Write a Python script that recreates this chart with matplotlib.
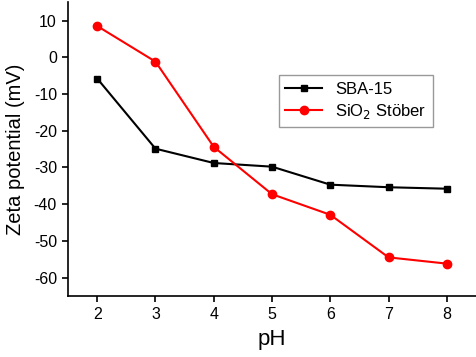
import numpy as np
import matplotlib
matplotlib.use("Agg")
import matplotlib.pyplot as plt

plt.rcParams['font.family'] = ['Liberation Sans', 'DejaVu Sans']
plt.rcParams['axes.unicode_minus'] = False

# Data
ph = [2, 3, 4, 5, 6, 7, 8]
sba15 = [-5.8, -24.9, -28.8, -29.8, -34.7, -35.4, -35.8]
stober = [8.5, -1.2, -24.4, -37.3, -42.9, -54.5, -56.2]
yticks = [-60, -50, -40, -30, -20, -10, 0, 10]

fig = plt.figure(figsize=(4.76, 3.57), dpi=100)
ax = fig.add_axes([0.143, 0.171, 0.857, 0.823])

ax.plot(ph, sba15, color='black', marker='s', markersize=5, linewidth=1.5,
        label='SBA-15')
ax.plot(ph, stober, color='red', marker='o', markersize=6, linewidth=1.5,
        label='SiO$_2$ Stöber')

ax.set_xlim(1.5, 8.5)
ax.set_ylim(-65, 15)
ax.set_xticks(ph)
ax.set_yticks(yticks)
ax.spines['top'].set_visible(False)
ax.spines['right'].set_visible(False)
ax.spines['left'].set_linewidth(1.2)
ax.spines['bottom'].set_linewidth(1.2)
ax.tick_params(direction='out', length=4, width=1.2, labelsize=11.5, pad=4)

ax.set_xlabel('pH', fontsize=16, labelpad=5)
ax.set_ylabel('Zeta potential (mV)', fontsize=14.5, labelpad=6)

leg = ax.legend(loc='upper right', bbox_to_anchor=(0.895, 0.752), fontsize=12,
                frameon=True, fancybox=False, handlelength=2.2,
                borderaxespad=0, labelspacing=0.3)
leg.get_frame().set_edgecolor('gray')
leg.get_frame().set_linewidth(1.0)

fig.savefig('out.png', dpi=100)
